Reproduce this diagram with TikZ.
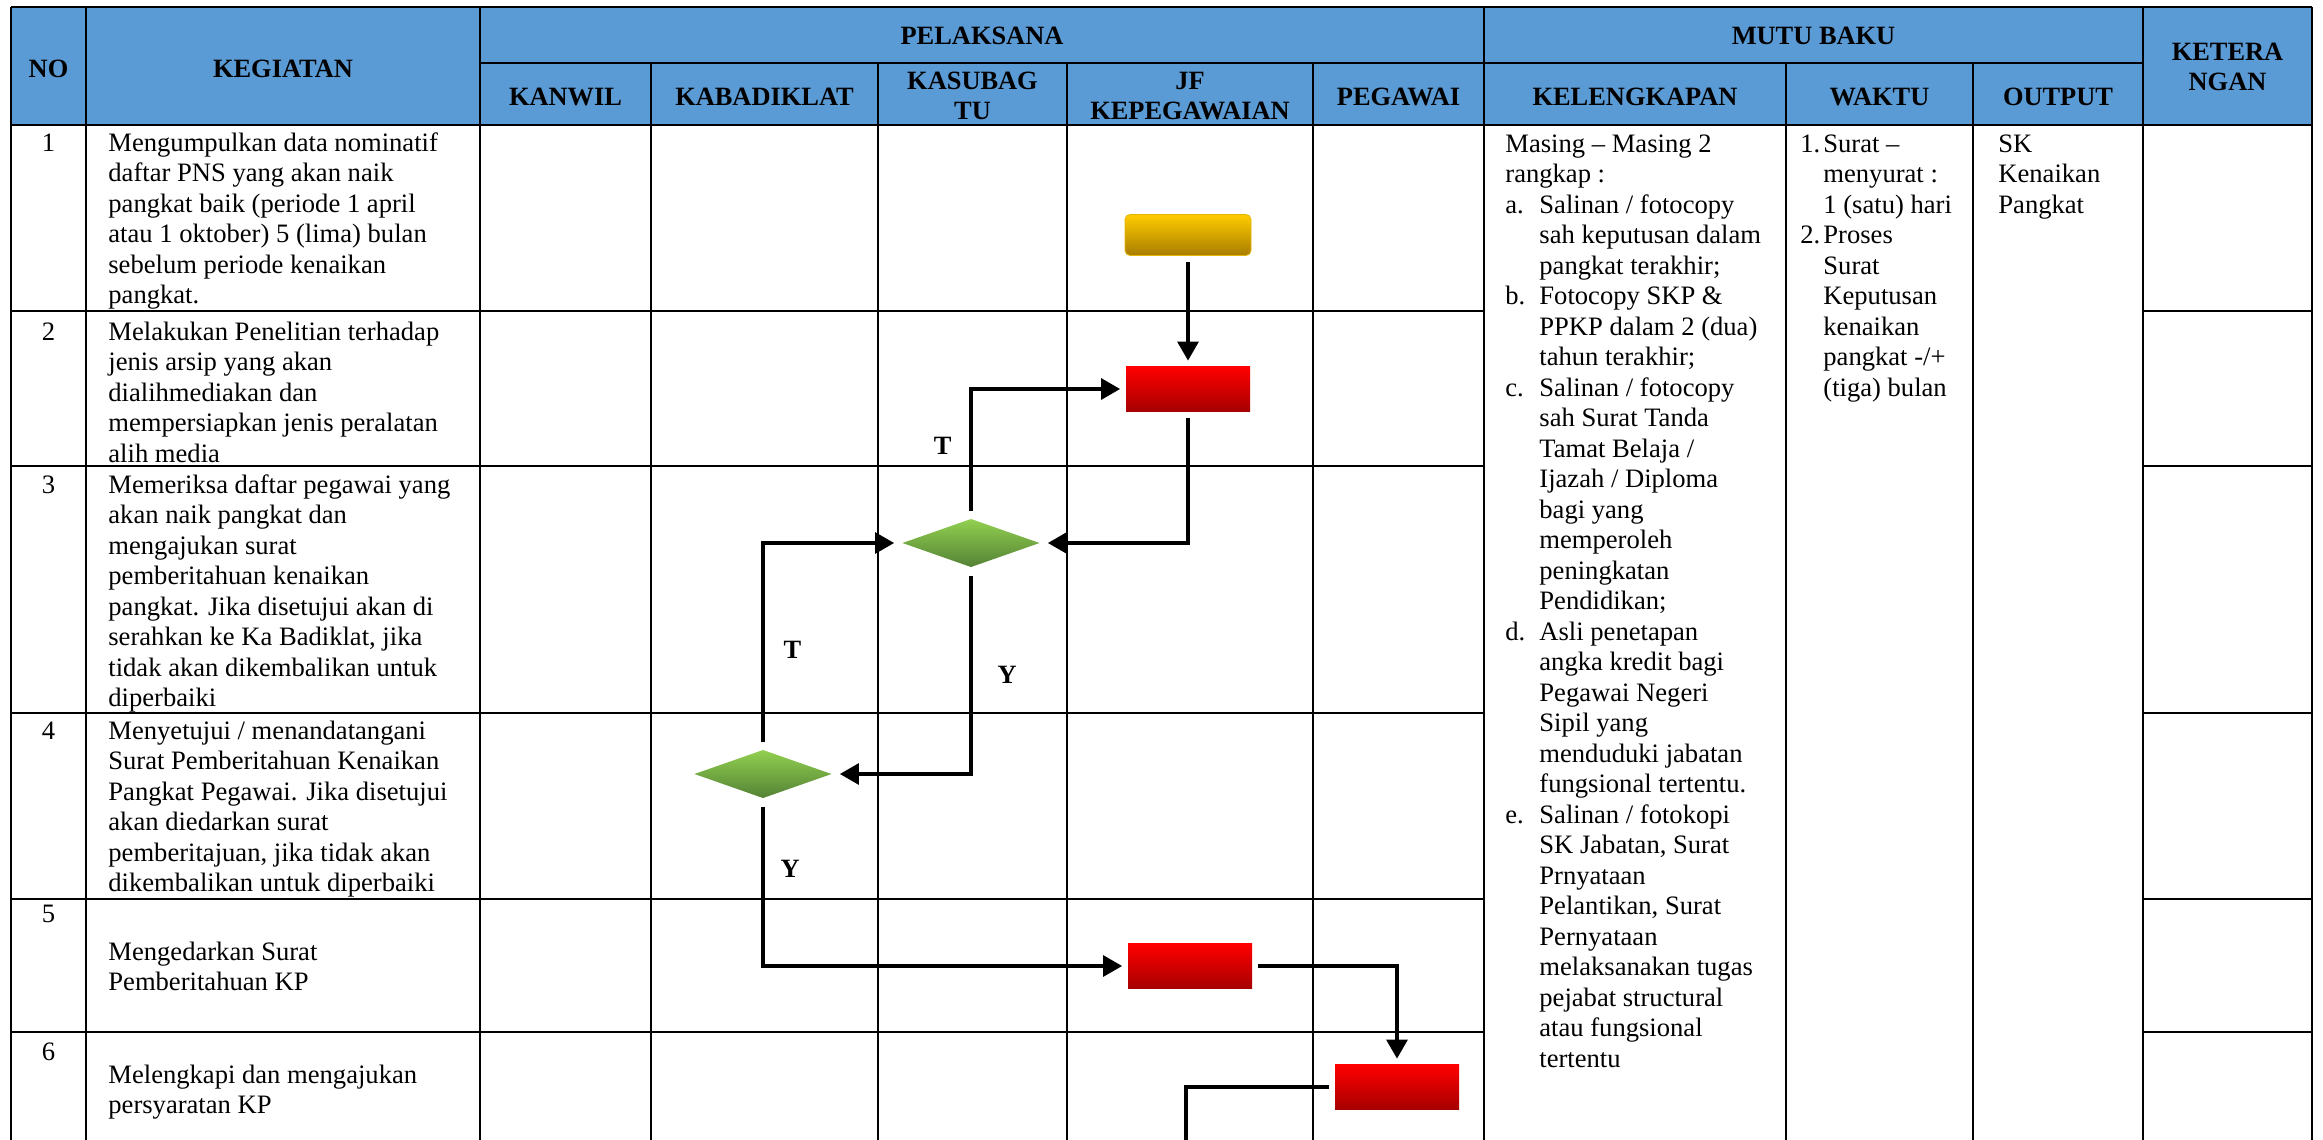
\documentclass[tikz,border=0pt]{standalone}
\usepackage{fontspec}
\setmainfont{Liberation Serif}
\usetikzlibrary{arrows,positioning,shapes.geometric}

\definecolor{headblue}{RGB}{91,155,213}
\definecolor{goldtop}{RGB}{255,204,0}
\definecolor{goldbot}{RGB}{168,124,0}
\definecolor{redtop}{RGB}{255,0,0}
\definecolor{redbot}{RGB}{166,0,0}
\definecolor{greentop}{RGB}{146,208,80}
\definecolor{greenbot}{RGB}{84,130,53}

\newcommand\bodyfont{\fontsize{13.3}{15.25}\selectfont}
\newcommand\headfont{\fontsize{13.2}{15}\selectfont\bfseries}
\newcommand\itm[1]{\makebox[17pt][l]{#1}}
\newcommand\ind{\hspace*{17pt}}
\newcommand\wit[1]{\makebox[11.5pt][l]{#1}}
\newcommand\wind{\hspace*{11.5pt}}

\begin{document}
\begin{tikzpicture}[
  x=0.5pt,y=-0.5pt,
  tabline/.style={line width=1pt},
  head/.style={font=\headfont,align=center,inner sep=0pt},
  celltext/.style={font=\bodyfont,align=left,anchor=north west,inner sep=0pt},
  num/.style={font=\bodyfont,anchor=base,inner sep=0pt},
  terminal/.style={rounded corners=2.5pt,minimum width=63pt,minimum height=20.5pt,top color=goldtop,bottom color=goldbot,draw=goldtop!70!goldbot,line width=0.4pt,outer sep=3pt},
  process/.style={minimum width=62pt,minimum height=22.5pt,top color=redtop,bottom color=redbot,outer sep=3pt},
  decision/.style={diamond,minimum width=71pt,minimum height=26.5pt,inner sep=0pt,top color=greentop,bottom color=greenbot,outer sep=3pt},
  flow/.style={line width=1.6pt,-triangle 60},
  answer/.style={font=\headfont,inner sep=0pt}
]
  \useasboundingbox (0,0) rectangle (2323,1140);

  % table frame
  \fill[headblue] (11,7) rectangle (2312,125);
  \draw[tabline] (11,7) -- (2312,7) (480,63) -- (2143,63) (11,125) -- (2312,125);
  \draw[tabline] (11,7) -- (11,1140) (86,7) -- (86,1140) (480,7) -- (480,1140)
    (1484,7) -- (1484,1140) (2143,7) -- (2143,1140) (2312,7) -- (2312,1140);
  \draw[tabline] (651,63) -- (651,1140) (878,63) -- (878,1140) (1067,63) -- (1067,1140)
    (1313,63) -- (1313,1140) (1786,63) -- (1786,1140) (1973,63) -- (1973,1140);
  \draw[tabline] (11,311) -- (1484,311) (2143,311) -- (2312,311)
    (11,466) -- (1484,466) (2143,466) -- (2312,466)
    (11,713) -- (1484,713) (2143,713) -- (2312,713)
    (11,899) -- (1484,899) (2143,899) -- (2312,899)
    (11,1032) -- (1484,1032) (2143,1032) -- (2312,1032);

  % header
  \node[head] (hno) at (48.5,69) {NO};
  \node[head] (hkeg) at (283,69) {KEGIATAN};
  \node[head] (hpel) at (982,36) {PELAKSANA};
  \node[head] (hmutu) at (1813.5,36) {MUTU BAKU};
  \node[head] (hket) at (2227.5,67) {KETERA\\NGAN};
  \node[head] (hkanwil) at (565.5,96.5) {KANWIL};
  \node[head] (hkabad) at (764.5,96.5) {KABADIKLAT};
  \node[head] (hkasub) at (972.5,95.5) {KASUBAG\\TU};
  \node[head] (hjf) at (1190,96) {JF\\KEPEGAWAIAN};
  \node[head] (hpeg) at (1398.5,96.5) {PEGAWAI};
  \node[head] (hkel) at (1635,96.5) {KELENGKAPAN};
  \node[head] (hwkt) at (1879.5,96.5) {WAKTU};
  \node[head] (hout) at (2058,96.5) {OUTPUT};

  % numbers
  \node[num] (no1) at (48.5,151) {1};
  \node[num] (no2) at (48.5,340) {2};
  \node[num] (no3) at (48.5,493) {3};
  \node[num] (no4) at (48.5,739) {4};
  \node[num] (no5) at (48.5,922) {5};
  \node[num] (no6) at (48.5,1060) {6};

  % kegiatan
  \node[celltext] (keg1) at (108,129.5) {\strut Mengumpulkan data nominatif\\daftar PNS yang akan naik\\pangkat baik (periode 1 april\\atau 1 oktober) 5 (lima) bulan\\sebelum periode kenaikan\\pangkat.};
  \node[celltext] (keg2) at (108,318.5) {\strut Melakukan Penelitian terhadap\\jenis arsip yang akan\\dialihmediakan dan\\mempersiapkan jenis peralatan\\alih media};
  \node[celltext] (keg3) at (108,471.5) {\strut Memeriksa daftar pegawai yang\\akan naik pangkat dan\\mengajukan surat\\pemberitahuan kenaikan\\pangkat. Jika disetujui akan di\\serahkan ke Ka Badiklat, jika\\tidak akan dikembalikan untuk\\diperbaiki};
  \node[celltext] (keg4) at (108,717.5) {\strut Menyetujui / menandatangani\\Surat Pemberitahuan Kenaikan\\Pangkat Pegawai. Jika disetujui\\akan diedarkan surat\\pemberitajuan, jika tidak akan\\dikembalikan untuk diperbaiki};
  \node[celltext] (keg5) at (108,938.5) {\strut Mengedarkan Surat\\Pemberitahuan KP};
  \node[celltext] (keg6) at (108,1061.5) {\strut Melengkapi dan mengajukan\\persyaratan KP};

  % mutu baku
  \node[celltext] (kel) at (1505,130.5) {\strut Masing -- Masing 2\\rangkap :\\
    \itm{a.}Salinan / fotocopy\\\ind sah keputusan dalam\\\ind pangkat terakhir;\\
    \itm{b.}Fotocopy SKP \&\\\ind PPKP dalam 2 (dua)\\\ind tahun terakhir;\\
    \itm{c.}Salinan / fotocopy\\\ind sah Surat Tanda\\\ind Tamat Belaja /\\\ind Ijazah / Diploma\\\ind bagi yang\\\ind memperoleh\\\ind peningkatan\\\ind Pendidikan;\\
    \itm{d.}Asli penetapan\\\ind angka kredit bagi\\\ind Pegawai Negeri\\\ind Sipil yang\\\ind menduduki jabatan\\\ind fungsional tertentu.\\
    \itm{e.}Salinan / fotokopi\\\ind SK Jabatan, Surat\\\ind Prnyataan\\\ind Pelantikan, Surat\\\ind Pernyataan\\\ind melaksanakan tugas\\\ind pejabat structural\\\ind atau fungsional\\\ind tertentu};
  \node[celltext] (wkt) at (1800,130.5) {\strut\wit{1.}Surat --\\\wind menyurat :\\\wind 1 (satu) hari\\
    \wit{2.}Proses\\\wind Surat\\\wind Keputusan\\\wind kenaikan\\\wind pangkat -/+\\\wind (tiga) bulan};
  \node[celltext] (outp) at (1998,130.5) {\strut SK\\Kenaikan\\Pangkat};

  % flowchart
  \node[terminal] (start) at (1188,235) {};
  \node[process] (verif) at (1188,389) {};
  \node[decision] (cekkasub) at (971,543) {};
  \node[decision] (setuju) at (763,774) {};
  \node[process] (edar) at (1190,966) {};
  \node[process] (lengkap) at (1397,1087) {};
  \coordinate (lanjut) at (1186,1140);

  \draw[flow] (start) -- (verif);
  \draw[flow] (verif.south) |- (cekkasub.east);
  \draw[flow] (cekkasub.north) |- node[answer,pos=.265,left=9pt]{T} (verif.west);
  \draw[flow] (cekkasub.south) |- node[answer,pos=.25,right=12.5pt]{Y} (setuju.east);
  \draw[flow] (setuju.north) |- node[answer,pos=.23,right=9.5pt]{T} (cekkasub.west);
  \draw[flow] (setuju.south) |- node[answer,pos=.195,right=8pt]{Y} (edar.west);
  \draw[flow] (edar.east) -| (lengkap.north);
  \draw[line width=1.6pt] (lengkap.west) -| (lanjut);
\end{tikzpicture}
\end{document}
